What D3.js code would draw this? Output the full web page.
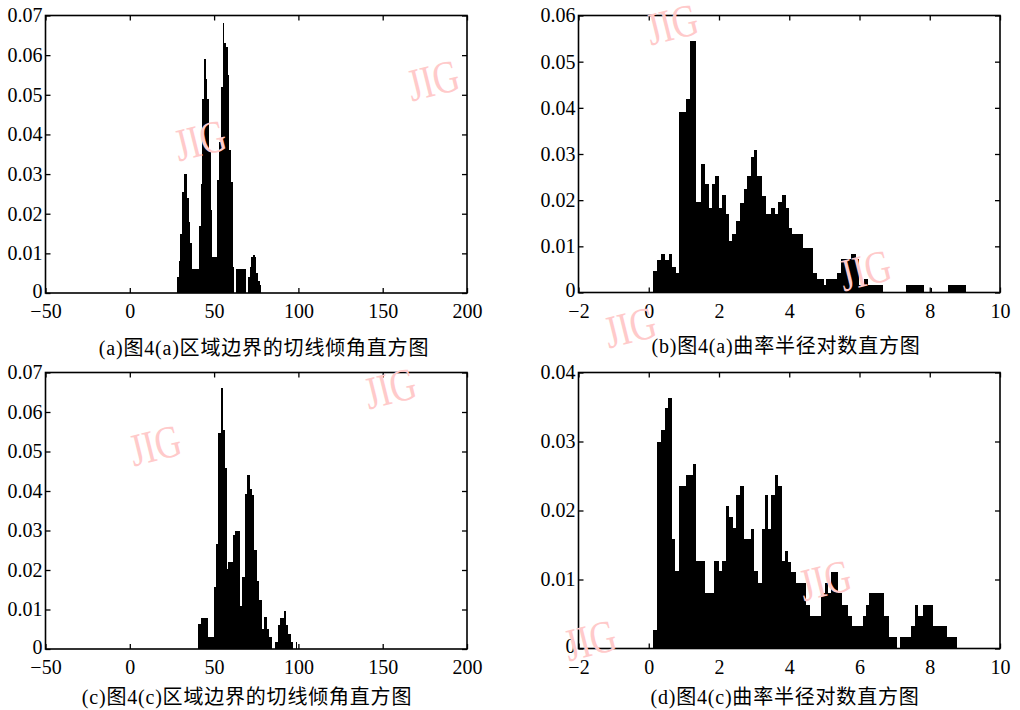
<!DOCTYPE html>
<html><head><meta charset="utf-8">
<script src="https://cdn.jsdelivr.net/npm/d3@7"></script>
<style>body{margin:0;background:#fff}svg{display:block}</style>
</head><body>
<svg id="chart" width="1020" height="710"></svg>
<script>
// ---------- data ----------
// (a) tangent inclination histogram of region in Fig.4(a)
const aEdges = [28,29,30,31,32,33,34,35,36,37,38,39,40,41,42,43,44,45,46,47,48,49,50,51,52,53,54,55,56,57,58,59,60,61,62,63,64,65,66,67,68,69,70,71,72,73,74,75,76,77,78];
const aValues = [0.004,0.008,0.015,0.0255,0.030,0.030,0.024,0.018,0.0125,0.006,0.006,0.006,0.006,0.017,0.0276,0.049,0.059,0.054,0.049,0.036,0.021,0.009,0.009,0.009,0.0285,0.038,0.052,0.068,0.063,0.062,0.055,0.036,0.028,0.0066,0,0.006,0.006,0.006,0.006,0.006,0.006,0,0.004,0.0066,0.009,0.0095,0.009,0.005,0.003,0.002];

// (b) log curvature radius histogram of Fig.4(a)
const bEdges = [0.12,0.24,0.356,0.45,0.564,0.66,0.764,0.85,1.05,1.163,1.354,1.477,1.59,1.705,1.8,1.895,1.99,2.085,2.19,2.28,2.38,2.47,2.59,2.70,2.80,2.90,3.0,3.09,3.21,3.35,3.47,3.59,3.68,3.78,3.90,3.99,4.09,4.39,4.68,4.79,5.0,5.04,5.37,5.46,5.75,5.89,5.98,6.12,6.25,6.67,7.33,7.84,8.03,8.07,8.51,9.03];
const bValues = [0.0047,0.0070,0.0083,0.0070,0.0083,0.0056,0.0042,0.0391,0.0420,0.0544,0.0195,0.0279,0.0236,0.0182,0.0236,0.0253,0.0182,0.0211,0.0169,0.0112,0.0126,0.0155,0.0194,0.0224,0.0253,0.0294,0.0308,0.0253,0.0210,0.0171,0.0184,0.0171,0.0197,0.0212,0.0184,0.0140,0.0127,0.0097,0.0043,0.0030,0.0017,0.0030,0.0043,0.0072,0.0084,0.0072,0.0017,0.0030,0.0017,0,0.0017,0,0.0010,0,0.0017];

// (c) tangent inclination histogram of region in Fig.4(c)
const cEdges = [40.5,42.5,46.4,49.8,51,52.4,53.8,55,56.2,57.4,58.4,61,62.4,65.4,66.8,68.4,69.8,71,72.4,73.8,75.4,76.8,78.4,79.8,81.4,82.8,84.4,86.4,87.8,89,91.6,92.6,94,95.4,97,98.6,99.4];
const cValues = [0.0063,0.0079,0.0031,0.0157,0.0267,0.0546,0.0662,0.0554,0.0457,0.0203,0.0220,0.0288,0.0299,0.011,0.0182,0.0393,0.044,0.0406,0.039,0.025,0.0173,0.0123,0.0051,0.0080,0.0051,0.003,0,0.0017,0.006,0.0079,0.0096,0.006,0.0038,0.0017,0,0.0017];

// (d) log curvature radius histogram of Fig.4(c)
const dEdges = [0.12,0.23,0.36,0.47,0.56,0.66,0.76,0.85,1.05,1.26,1.35,1.59,1.87,1.99,2.08,2.19,2.28,2.39,2.47,2.59,2.70,2.90,3.0,3.11,3.21,3.30,3.40,3.49,3.59,3.68,3.79,3.87,3.97,4.06,4.18,4.49,4.60,4.89,5.01,5.11,5.20,5.39,5.49,5.68,5.80,6.09,6.18,6.28,6.70,6.84,7.08,7.15,7.48,7.58,7.67,7.80,8.10,8.48,8.78];
const dValues = [0.0027,0.0300,0.0317,0.0349,0.0363,0.0158,0.0112,0.0236,0.0252,0.0268,0.0127,0.0081,0.0127,0.0112,0.0127,0.0206,0.0190,0.0175,0.0222,0.0236,0.0158,0.0173,0.0112,0.0095,0.0173,0.0222,0.0173,0.0222,0.0251,0.0235,0.0127,0.0141,0.0126,0.0111,0.0095,0.0063,0.0047,0.0080,0.0095,0.0080,0.0111,0.0080,0.0063,0.0047,0.0032,0.0047,0.0063,0.0080,0.0047,0.0016,0,0.0016,0.0032,0.0063,0.0047,0.0063,0.0032,0.0016];

const xTicksAngle = [-50,0,50,100,150,200];
const xTicksLog = [-2,0,2,4,6,8,10];
const yTicks07 = [0,0.01,0.02,0.03,0.04,0.05,0.06,0.07];
const yTicks06 = [0,0.01,0.02,0.03,0.04,0.05,0.06];
const yTicks04 = [0,0.01,0.02,0.03,0.04];
const captions = ["(a)图4(a)区域边界的切线倾角直方图","(b)图4(a)曲率半径对数直方图","(c)图4(c)区域边界的切线倾角直方图","(d)图4(c)曲率半径对数直方图"];
const watermark = "JIG";

// ---------- layout ----------
const panels = [
  {edges:aEdges, values:aValues, box:[45.5,15.5,467,293], xd:[-50,200], yd:[0,0.07], xt:xTicksAngle, yt:yTicks07, cap:captions[0], cp:[264,348]},
  {edges:bEdges, values:bValues, box:[578.5,15.5,1000,292.5], xd:[-2,10], yd:[0,0.06], xt:xTicksLog, yt:yTicks06, cap:captions[1], cp:[786,346]},
  {edges:cEdges, values:cValues, box:[45.5,372.5,467,649], xd:[-50,200], yd:[0,0.07], xt:xTicksAngle, yt:yTicks07, cap:captions[2], cp:[247,697]},
  {edges:dEdges, values:dValues, box:[578.5,372.5,1000,648.5], xd:[-2,10], yd:[0,0.04], xt:xTicksLog, yt:yTicks04, cap:captions[3], cp:[785,697]}
];
const wmPos = [[200,140],[433,80],[672,24],[865,270],[630,327],[390,388],[155,445],[825,580],[590,640]];

const svg = d3.select("#chart");
const serif = "'Liberation Serif','Times New Roman',serif";
const yFmt = d => d === 0 ? "0" : d3.format(".2f")(d);
const xFmt = d3.format("d");

panels.forEach(p => {
  const [L,T,R,B] = p.box;
  const x = d3.scaleLinear().domain(p.xd).range([L,R]);
  const y = d3.scaleLinear().domain(p.yd).range([B,T]);
  const g = svg.append("g");
  const bins = p.values.map((v,i) => ({x0:p.edges[i], x1:p.edges[i+1], v}));
  g.selectAll("rect.bar").data(bins.filter(d=>d.v>0)).join("rect")
    .attr("class","bar")
    .attr("x", d => x(d.x0))
    .attr("width", d => x(d.x1) - x(d.x0))
    .attr("y", d => y(d.v))
    .attr("height", d => y(0) - y(d.v))
    .attr("fill", "#000")
    .attr("shape-rendering","crispEdges");

  const styleAxis = sel => {
    sel.select(".domain").remove();
    sel.selectAll("line").attr("stroke","#000").attr("stroke-width",1.3);
    sel.selectAll("text").attr("font-family",serif).attr("font-size",20).attr("fill","#000");
  };
  g.append("g").attr("transform",`translate(0,${B})`)
    .call(d3.axisBottom(x).tickValues(p.xt).tickFormat(xFmt).tickSizeInner(-5).tickSizeOuter(0).tickPadding(11)).call(styleAxis);
  g.append("g").attr("transform",`translate(0,${T})`)
    .call(d3.axisTop(x).tickValues(p.xt).tickFormat("").tickSizeInner(-5).tickSizeOuter(0)).call(styleAxis);
  const ya = g.append("g").attr("transform",`translate(${L},0)`)
    .call(d3.axisLeft(y).tickValues(p.yt).tickFormat(yFmt).tickSizeInner(-5).tickSizeOuter(0).tickPadding(3)).call(styleAxis);
  ya.selectAll(".tick text").filter(d => d === 0).attr("dy","0.2em");
  g.append("g").attr("transform",`translate(${R},0)`)
    .call(d3.axisRight(y).tickValues(p.yt).tickFormat("").tickSizeInner(-5).tickSizeOuter(0)).call(styleAxis);

  g.append("rect").attr("x",L).attr("y",T).attr("width",R-L).attr("height",B-T)
    .attr("fill","none").attr("stroke","#000").attr("stroke-width",1.6);

  svg.append("text").attr("x",p.cp[0]).attr("y",p.cp[1]).attr("text-anchor","middle")
    .attr("dominant-baseline","central")
    .attr("font-family","'Liberation Serif','Noto Sans CJK SC',serif").attr("font-size",20)
    .attr("letter-spacing",0.8)
    .attr("fill","#000").text(p.cap);
});

svg.append("g").selectAll("text").data(wmPos).join("text")
  .attr("transform", d => `translate(${d[0]},${d[1]}) rotate(-14) scale(0.78,1)`)
  .attr("text-anchor","middle").attr("dominant-baseline","central")
  .attr("font-family",serif).attr("font-size",46)
  .attr("fill","#ffcaca").text(watermark);
</script>
</body></html>
